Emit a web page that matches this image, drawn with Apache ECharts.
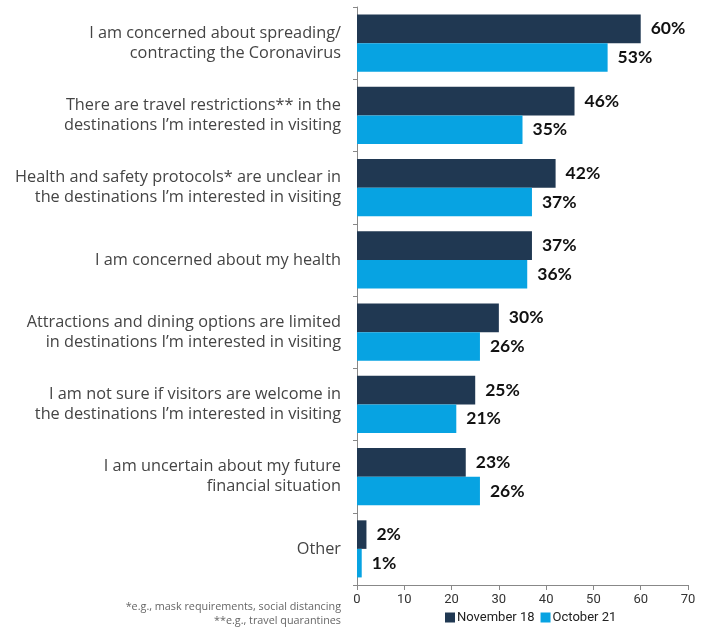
<!DOCTYPE html>
<html>
<head>
<meta charset="utf-8">
<script src="https://cdn.jsdelivr.net/npm/echarts@6/dist/echarts.min.js"></script>
<style>html,body{margin:0;padding:0;background:#fff;}#c{width:713px;height:629px;}</style>
</head>
<body>
<div id="c"></div>
<script>
const categories = [
  "I am concerned about spreading/\ncontracting the Coronavirus",
  "There are travel restrictions** in the\ndestinations I\u2019m interested in visiting",
  "Health and safety protocols* are unclear in\nthe destinations I\u2019m interested in visiting",
  "I am concerned about my health",
  "Attractions and dining options are limited\nin destinations I\u2019m interested in visiting",
  "I am not sure if visitors are welcome in\nthe destinations I\u2019m interested in visiting",
  "I am uncertain about my future\nfinancial situation",
  "Other"
];
const seriesNames = ["November 18", "October 21"];
const nov18 = [60, 46, 42, 37, 30, 25, 23, 2];
const oct21 = [53, 35, 37, 36, 26, 21, 26, 1];
const xTicks = { min: 0, max: 70, interval: 10 };
const footnotes = ["*e.g., mask requirements, social distancing", "**e.g., travel quarantines"];

const chart = echarts.init(document.getElementById('c'));
const labelStyle = {
  show: true, position: 'right', distance: 10,
  formatter: p => p.value + '%',
  fontFamily: 'Lato', fontWeight: 'bold', fontSize: 17.5, color: '#111'
};
chart.setOption({
  animation: false,
  grid: { left: 357, right: 25, top: 7, bottom: 44, containLabel: false },
  legend: {
    data: seriesNames, bottom: 0, left: 440, itemWidth: 10, itemHeight: 10, itemGap: 6,
    icon: 'rect',
    textStyle: { fontFamily: 'Roboto', fontSize: 13, color: '#222', padding: [0,0,0,-3] }
  },
  xAxis: {
    type: 'value', min: xTicks.min, max: xTicks.max, interval: xTicks.interval,
    splitLine: { show: false },
    axisLine: { show: true, lineStyle: { color: '#888' } },
    axisTick: { show: true, length: 5, lineStyle: { color: '#888' } },
    axisLabel: { fontFamily: 'Roboto', fontSize: 13, color: '#333', margin: 8 }
  },
  yAxis: {
    type: 'category', data: categories, inverse: true,
    axisLine: { show: true, lineStyle: { color: '#888' } },
    axisTick: { show: true, length: 4, lineStyle: { color: '#888' } },
    axisLabel: { fontFamily: 'Open Sans', fontSize: 16.3, color: '#444', lineHeight: 20, margin: 16, align: 'right' }
  },
  series: [
    { name: seriesNames[0], type: 'bar', data: nov18, barGap: '0%', barCategoryGap: '21%',
      itemStyle: { color: '#203852' }, label: labelStyle },
    { name: seriesNames[1], type: 'bar', data: oct21, barGap: '0%', barCategoryGap: '21%',
      itemStyle: { color: '#07a3e2' }, label: labelStyle }
  ],
  graphic: [
    { type: 'text', right: 713 - 341, top: 601, style: { text: footnotes[0], fontFamily: 'Open Sans', fontSize: 10.8, fill: '#666', align: 'right' } },
    { type: 'text', right: 713 - 341, top: 615, style: { text: footnotes[1], fontFamily: 'Open Sans', fontSize: 10.8, fill: '#666', align: 'right' } }
  ]
});
</script>
</body>
</html>
